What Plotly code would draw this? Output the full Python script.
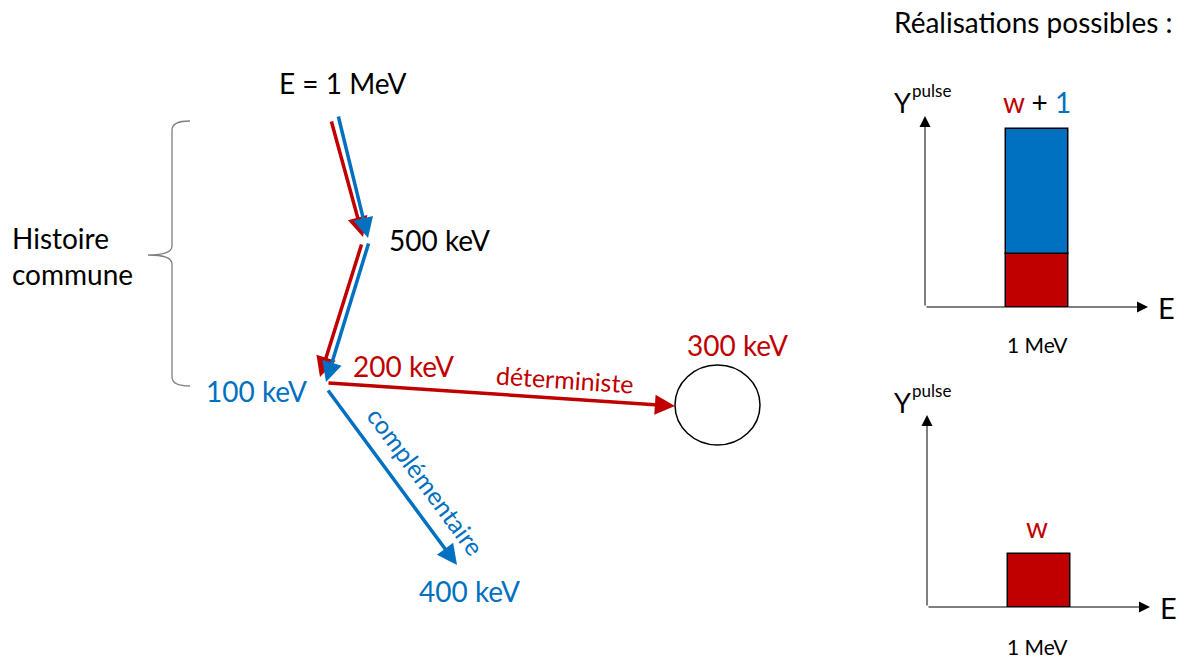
import plotly.graph_objects as go

# ---------------- data ----------------
energy_labels = ["E = 1 MeV", "500 keV", "100 keV", "200 keV", "300 keV", "400 keV"]
branch_labels = ["déterministe", "complémentaire"]
side_labels = ["Histoire<br>commune", "Réalisations possibles :"]
bar_energy = [1.0]          # 1 MeV bin
bar_tick = ["1 MeV"]
w_value = [0.43]            # deterministic weight (red)
comp_value = [1.0]          # complementary contribution (blue)

RED = "#C00000"
BLUE = "#0070C0"
FONT = "Lato"
W, H = 1185, 661

fig = go.Figure()

# invisible trace to anchor the main (pixel-like) axes
fig.add_trace(go.Scatter(x=[0, W], y=[0, H], mode="markers",
                         marker=dict(opacity=0), hoverinfo="skip", showlegend=False))

# inset 1 : w + 1
fig.add_trace(go.Bar(x=bar_energy, y=w_value, width=0.56, marker=dict(color=RED, line=dict(color="black", width=1.5)),
                     xaxis="x2", yaxis="y2", showlegend=False, hoverinfo="skip"))
fig.add_trace(go.Bar(x=bar_energy, y=comp_value, base=w_value, width=0.56,
                     marker=dict(color=BLUE, line=dict(color="black", width=1.5)),
                     xaxis="x2", yaxis="y2", showlegend=False, hoverinfo="skip"))
# inset 2 : w only
fig.add_trace(go.Bar(x=bar_energy, y=w_value, width=0.56, marker=dict(color=RED, line=dict(color="black", width=1.5)),
                     xaxis="x3", yaxis="y3", showlegend=False, hoverinfo="skip"))

PX = 125.0  # pixels per unit in the insets


def fx(px):
    return px / W


def fy(py):
    return 1 - py / H


top_base, top_top = 307, 116
bot_base, bot_top = 607, 415
x_left1, x_right1 = 925, 1148
x_left2, x_right2 = 927, 1150

hidden = dict(visible=False, showgrid=False, zeroline=False, fixedrange=True)
fig.update_layout(
    width=W, height=H,
    margin=dict(l=0, r=0, t=0, b=0),
    paper_bgcolor="white", plot_bgcolor="rgba(0,0,0,0)",
    barmode="overlay",
    xaxis=dict(range=[0, W], domain=[0, 1], **hidden),
    yaxis=dict(range=[H, 0], domain=[0, 1], **hidden),
    xaxis2=dict(range=[0, 2], domain=[fx(x_left1), fx(x_right1)], anchor="y2", **hidden),
    yaxis2=dict(range=[0, (top_base - top_top) / PX], domain=[fy(top_base), fy(top_top)], anchor="x2", **hidden),
    xaxis3=dict(range=[0, 2], domain=[fx(x_left2), fx(x_right2)], anchor="y3", **hidden),
    yaxis3=dict(range=[0, (bot_base - bot_top) / PX], domain=[fy(bot_base), fy(bot_top)], anchor="x3", **hidden),
    font=dict(family=FONT, color="black"),
)

ann = []


def arrow(x0, y0, x1, y1, color, width=3.5, size=1.15, head=2):
    ann.append(dict(x=x1, y=y1, ax=x0, ay=y0, xref="x", yref="y", axref="x", ayref="y",
                    showarrow=True, arrowhead=head, arrowsize=size, arrowwidth=width,
                    arrowcolor=color, standoff=0, text=""))


def text(x, y, s, color="black", size=28, angle=0, xanchor="center", align="center"):
    ann.append(dict(x=x, y=y, xref="x", yref="y", text=s, showarrow=False,
                    font=dict(family=FONT, size=size, color=color), textangle=angle,
                    xanchor=xanchor, yanchor="middle", align=align))


# cascade arrows
arrow(331, 120, 363, 237, RED)
arrow(338, 115, 368, 238, BLUE)
arrow(362, 243, 320, 377, RED)
arrow(369, 242, 326, 382, BLUE)
arrow(327, 383, 675, 406, RED)
arrow(327, 389, 457, 565, BLUE)

# inset axes (arrows)
arrow(x_left1, top_base, x_left1, top_top, "black", width=1, size=2.2, head=2)
arrow(x_left1, top_base, x_right1, top_base, "black", width=1, size=2.2, head=2)
arrow(x_left2, bot_base, x_left2, bot_top, "black", width=1, size=2.2, head=2)
arrow(x_left2, bot_base, x_right2, bot_base, "black", width=1, size=2.2, head=2)

# labels
text(342, 83, energy_labels[0])
text(439, 240, energy_labels[1])
text(256, 391, energy_labels[2], color=BLUE)
text(403, 366, energy_labels[3], color=RED)
text(737, 345, energy_labels[4], color=RED)
text(469, 591, energy_labels[5], color=BLUE)
text(565, 379, branch_labels[0], color=RED, size=25, angle=3.8)
text(426, 481, branch_labels[1], color=BLUE, size=25, angle=53.5)
text(10, 256, side_labels[0], xanchor="left", align="left")
text(1033, 22, side_labels[1])

# inset texts
text(902, 102, "Y", size=27)
text(931, 90, "pulse", size=17)
text(1166, 307, "E", size=29)
text(1037, 102, f"<span style='color:{RED}'>w</span> + <span style='color:{BLUE}'>1</span>", size=28)
text(1037, 344, bar_tick[0], size=21)

text(902, 402, "Y", size=27)
text(931, 390, "pulse", size=17)
text(1168, 607, "E", size=29)
text(1037, 527, "<span style='color:%s'>w</span>" % RED, size=28)
text(1037, 646, bar_tick[0], size=21)

fig.update_layout(annotations=ann)

# circle and brace
fig.add_shape(type="circle", xref="x", yref="y", x0=675, x1=760, y0=365, y1=445,
              line=dict(color="black", width=1.5), fillcolor="rgba(0,0,0,0)")
fig.add_shape(type="path", xref="x", yref="y",
              path="M 190 121 Q 172 121 172 130 L 172 246 Q 172 255 148 255 "
                   "Q 172 255 172 264 L 172 377 Q 172 386 190 386",
              line=dict(color="#7f7f7f", width=1.3))

fig.write_html("out.html", config={"displayModeBar": False},
               post_script="document.body.style.margin='0';document.body.style.overflow='hidden';")
